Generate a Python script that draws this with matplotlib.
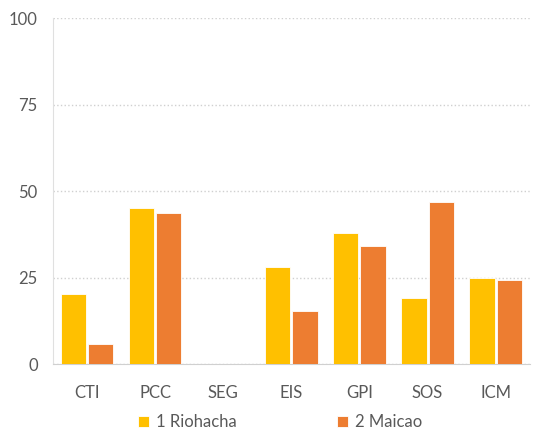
import matplotlib
matplotlib.use("Agg")
import matplotlib.pyplot as plt
import numpy as np

categories = ["CTI", "PCC", "SEG", "EIS", "GPI", "SOS", "ICM"]
riohacha = [20.3, 45.2, 0, 28.2, 37.9, 19.0, 24.9]
maicao = [5.8, 43.7, 0, 15.5, 34.2, 46.8, 24.3]
series_names = ["1 Riohacha", "2 Maicao"]

plt.rcParams['font.family'] = ['Lato', 'DejaVu Sans']
text_color = "#595959"

fig = plt.figure(figsize=(5.4, 4.32), dpi=100)
ax = fig.add_axes([0.098, 0.157, 0.883, 0.801])

x = np.arange(len(categories))
w = 0.37
ax.bar(x - w / 2 - 0.015, riohacha, w, color="#FFC000", edgecolor="white",
       linewidth=0.6, label=series_names[0], zorder=3)
ax.bar(x + w / 2 + 0.015, maicao, w, color="#ED7D31", edgecolor="white",
       linewidth=0.6, label=series_names[1], zorder=3)

ax.set_xlim(-0.5, len(categories) - 0.5)
ax.set_ylim(0, 100)
ax.set_yticks([0, 25, 50, 75, 100])
ax.set_xticks(x)
ax.set_xticklabels(categories)
ax.tick_params(axis="both", length=0, labelsize=12, colors=text_color)
ax.tick_params(axis="y", pad=11)
ax.tick_params(axis="x", pad=15)

ax.yaxis.grid(True, linestyle=":", color="#D0D0D0", linewidth=1, zorder=0)
for s in ["top", "right"]:
    ax.spines[s].set_visible(False)
ax.spines["left"].set_color("#E0E0E0")
ax.spines["bottom"].set_color("#D0D0D0")

leg = ax.legend(loc="center", bbox_to_anchor=(0.476, -0.168), ncol=2,
                frameon=False, fontsize=12, handlelength=0.7, handleheight=0.7,
                handletextpad=0.4, columnspacing=6.0, borderpad=0.2)
for t in leg.get_texts():
    t.set_color(text_color)

fig.savefig("out.png", dpi=100)
